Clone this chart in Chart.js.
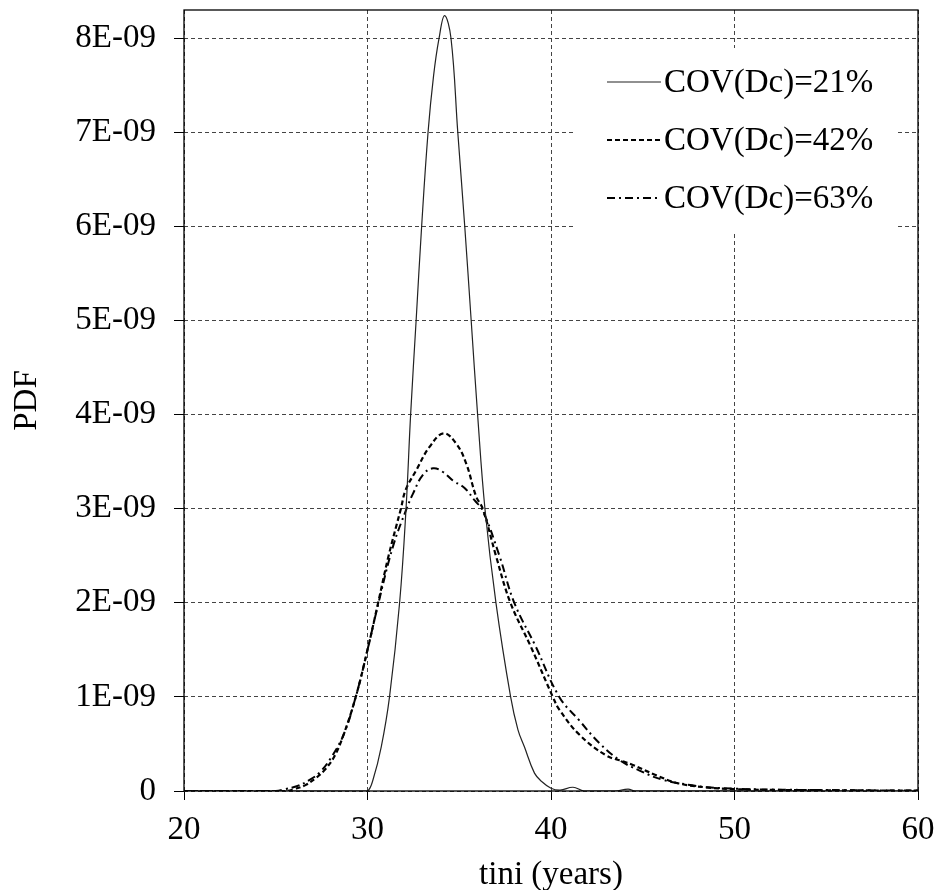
<!DOCTYPE html>
<html>
<head>
<meta charset="utf-8">
<script src="https://cdn.jsdelivr.net/npm/chart.js@4/dist/chart.umd.min.js"></script>
<style>
  html, body { margin: 0; padding: 0; background: #fff; }
  #wrap { width: 940px; height: 890px; }
</style>
</head>
<body>
<div id="wrap"><canvas id="c" width="940" height="890"></canvas></div>
<script>
// ---- data (PDF values expressed in units of 1E-09) ----
const PDF_UNIT = 1e-9;
const seriesLabels = ['COV(Dc)=21%', 'COV(Dc)=42%', 'COV(Dc)=63%'];

const t21 = [20, 29.5, 30.0, 30.3, 30.75, 31.2, 31.75, 32.1, 32.35, 32.65, 32.95, 33.3, 33.6, 33.9, 34.2, 34.55, 34.92, 35.3, 35.65, 36.0, 36.4, 37.0, 37.8, 38.2, 38.55, 39.1, 39.5, 40.0, 40.5, 41.2, 41.8, 43.5, 44.2, 44.6, 60];
const pdf21 = [0, 0, 0, 0.12, 0.47, 1.0, 2.0, 3.0, 4.0, 5.0, 6.0, 7.0, 7.6, 8.0, 8.24, 8.0, 7.0, 6.0, 5.0, 4.0, 3.0, 2.0, 1.0, 0.65, 0.47, 0.19, 0.1, 0.03, 0.01, 0.04, 0.0, 0.0, 0.02, 0, 0];

const t42 = [20, 25.5, 26.0, 26.59, 27.2, 27.7, 28.2, 28.7, 29.36, 30.0, 30.58, 31.15, 31.82, 32.08, 32.66, 33.39, 34.15, 34.84, 35.38, 35.92, 36.28, 37.0, 37.79, 38.91, 40.1, 40.47, 41.54, 42.99, 44.0, 44.43, 45.7, 46.97, 48.4, 50.0, 52.0, 55.0, 58.0, 60];
const pdf42 = [0, 0, 0.02, 0.06, 0.14, 0.23, 0.37, 0.6, 1.0, 1.5, 2.0, 2.5, 3.0, 3.2, 3.41, 3.66, 3.80, 3.69, 3.48, 3.13, 3.0, 2.5, 2.0, 1.53, 1.0, 0.86, 0.6, 0.38, 0.31, 0.28, 0.17, 0.08, 0.04, 0.02, 0.012, 0.008, 0.005, 0.003];

const t63 = [20, 25.0, 25.5, 26.14, 26.87, 27.41, 28.0, 28.7, 29.36, 30.0, 30.6, 31.39, 32.13, 32.48, 33.02, 33.57, 34.11, 34.65, 35.29, 35.83, 36.28, 37.19, 38.0, 39.18, 40.45, 41.54, 42.63, 43.72, 44.8, 46.07, 47.7, 48.5, 50.0, 52, 55, 58, 60];
const pdf63 = [0, 0, 0.02, 0.05, 0.12, 0.2, 0.35, 0.6, 1.0, 1.5, 2.0, 2.6, 3.0, 3.16, 3.36, 3.43, 3.39, 3.30, 3.22, 3.09, 2.98, 2.5, 2.0, 1.53, 1.0, 0.75, 0.51, 0.33, 0.22, 0.12, 0.06, 0.04, 0.025, 0.015, 0.01, 0.006, 0.004];

const xTicks = [20, 30, 40, 50, 60];
const yTicks = [0, 1, 2, 3, 4, 5, 6, 7, 8]; // in 1E-09

// ---- build ----
function pts(t, p) { return t.map((x, i) => ({ x: x, y: p[i] * PDF_UNIT })); }

const FONT = '"Liberation Serif", "Times New Roman", serif';
const FSIZE = 33;

const frameAndLegend = {
  id: 'frameAndLegend',
  afterDatasetsDraw(chart) {
    const ctx = chart.ctx;
    const a = chart.chartArea;
    ctx.save();
    // legend box (white background, inside plot area)
    const boxL = 575, boxT = 48, boxW = 322, boxH = 184;
    ctx.fillStyle = '#ffffff';
    ctx.fillRect(boxL, boxT, boxW, boxH);
    chart.data.datasets.forEach((ds, i) => {
      const cy = 82 + i * 58;
      ctx.beginPath();
      ctx.setLineDash(ds.borderDash || []);
      ctx.lineWidth = ds.borderWidth;
      ctx.strokeStyle = ds.borderColor;
      ctx.moveTo(607, cy);
      ctx.lineTo(661, cy);
      ctx.stroke();
      ctx.setLineDash([]);
      ctx.fillStyle = '#000';
      ctx.font = FSIZE + 'px ' + FONT;
      ctx.textBaseline = 'middle';
      ctx.textAlign = 'left';
      ctx.fillText(ds.label, 664, cy + 1);
    });
    // frame
    ctx.setLineDash([]);
    ctx.strokeStyle = '#000';
    ctx.lineWidth = 1.3;
    ctx.strokeRect(a.left, a.top, a.right - a.left, a.bottom - a.top);
    ctx.restore();
  }
};

function fixPad(s) { s.paddingTop = 0; s.paddingBottom = 0; s.paddingLeft = 0; s.paddingRight = 0; }

new Chart(document.getElementById('c'), {
  type: 'line',
  data: {
    datasets: [
      { label: seriesLabels[0], data: pts(t21, pdf21), borderColor: '#222', borderWidth: 1.2, borderDash: [], pointRadius: 0, fill: false, tension: 0.4 },
      { label: seriesLabels[1], data: pts(t42, pdf42), borderColor: '#000', borderWidth: 2.2, borderDash: [5, 3], pointRadius: 0, fill: false, tension: 0.4 },
      { label: seriesLabels[2], data: pts(t63, pdf63), borderColor: '#000', borderWidth: 2.0, borderDash: [8, 4, 2, 4], pointRadius: 0, fill: false, tension: 0.4 }
    ]
  },
  options: {
    responsive: false,
    animation: false,
    devicePixelRatio: 1,
    layout: { padding: { top: 10, right: 22, left: 0, bottom: 0 } },
    plugins: { legend: { display: false }, tooltip: { enabled: false } },
    scales: {
      x: {
        type: 'linear',
        min: xTicks[0], max: xTicks[xTicks.length - 1],
        afterBuildTicks: s => { s.ticks = xTicks.map(v => ({ value: v })); },
        afterFit: s => { s.height = 99; fixPad(s); },
        ticks: { font: { family: FONT, size: FSIZE }, color: '#000', padding: 11, maxRotation: 0, autoSkip: false },
        grid: { color: '#444', lineWidth: 1, tickLength: 9, tickColor: '#000', tickBorderDash: [] },
        border: { display: false, dash: [4, 3] },
        title: { display: true, text: 'tini (years)', font: { family: FONT, size: FSIZE, lineHeight: 0.9 }, color: '#000', padding: 0 }
      },
      y: {
        type: 'linear',
        min: 0, max: 8.3 * PDF_UNIT,
        afterBuildTicks: s => { s.ticks = yTicks.map(v => ({ value: v * PDF_UNIT })); },
        afterFit: s => { s.width = 184; fixPad(s); },
        ticks: {
          font: { family: FONT, size: FSIZE }, color: '#000', padding: 18, autoSkip: false,
          callback: v => { const n = Math.round(v / PDF_UNIT); return n === 0 ? '0' : n + 'E-09'; }
        },
        grid: { color: '#444', lineWidth: 1, tickLength: 10, tickColor: '#000', tickBorderDash: [] },
        border: { display: false, dash: [4, 3] },
        title: { display: true, text: 'PDF', font: { family: FONT, size: FSIZE, lineHeight: 1.2 }, color: '#000', padding: 8 }
      }
    }
  },
  plugins: [frameAndLegend]
});
</script>
</body>
</html>
